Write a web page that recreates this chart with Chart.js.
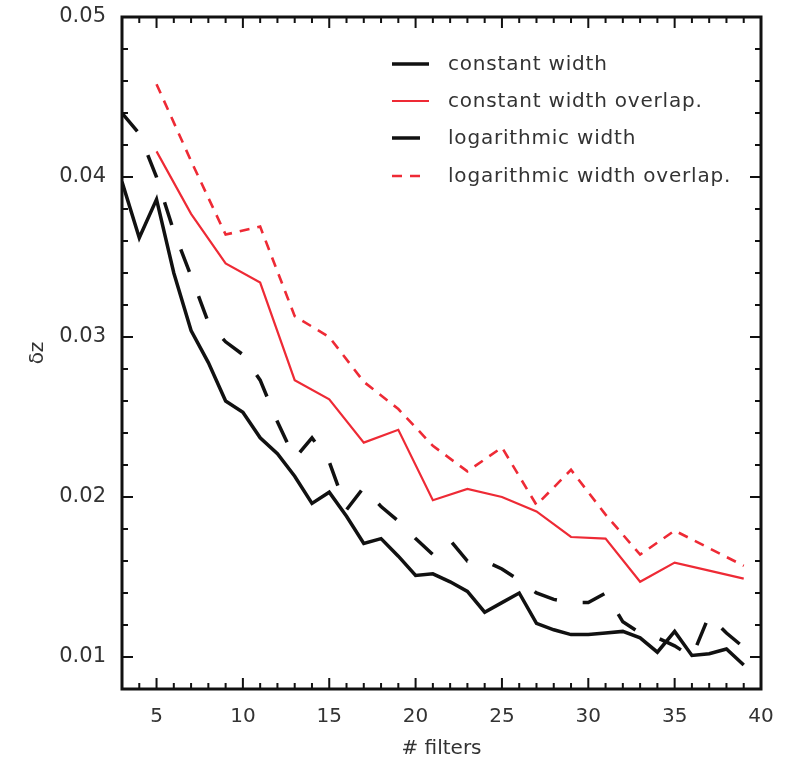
<!DOCTYPE html>
<html lang="en">
<head>
  <meta charset="UTF-8">
  <title>delta z vs number of filters</title>
  <style>
    body { margin: 0; background: #fff; }
    canvas { display: block; }
  </style>
</head>
<body>
  <canvas id="myChart" width="788" height="771"></canvas>

  <script src="https://cdn.jsdelivr.net/npm/chart.js"></script>
  <script>
    // number of filters (every integer for the plain runs, odd only for the overlap runs)
    const nFilters = [3, 4, 5, 6, 7, 8, 9, 10, 11, 12, 13, 14, 15, 16, 17, 18, 19, 20, 21,
                      22, 23, 24, 25, 26, 27, 28, 29, 30, 31, 32, 33, 34, 35, 36, 37, 38, 39];
    const nFiltersOdd = [5, 7, 9, 11, 13, 15, 17, 19, 21, 23, 25, 27, 29, 31, 33, 35, 37, 39];

    const constWidth = [0.0397, 0.0362, 0.0386, 0.0340, 0.0304, 0.0284, 0.0260, 0.0253, 0.0237,
                        0.0227, 0.0213, 0.0196, 0.0203, 0.0188, 0.0171, 0.0174, 0.0163, 0.0151,
                        0.0152, 0.0147, 0.0141, 0.0128, 0.0134, 0.0140, 0.0121, 0.0117, 0.0114,
                        0.0114, 0.0115, 0.0116, 0.0112, 0.0103, 0.0116, 0.0101, 0.0102, 0.0105,
                        0.0095];
    const logWidth = [0.0440, 0.0427, 0.0400, 0.0366, 0.0338, 0.0309, 0.0297, 0.0289, 0.0273,
                      0.0247, 0.0224, 0.0237, 0.0222, 0.0192, 0.0206, 0.0194, 0.0185, 0.0174,
                      0.0164, 0.0173, 0.0160, 0.0160, 0.0155, 0.0148, 0.0140, 0.0136, 0.0134,
                      0.0134, 0.0140, 0.0122, 0.0115, 0.0112, 0.0107, 0.0100, 0.0126, 0.0115,
                      0.0106];
    const constOverlap = [0.0416, 0.0377, 0.0346, 0.0334, 0.0273, 0.0261, 0.0234, 0.0242, 0.0198,
                          0.0205, 0.0200, 0.0191, 0.0175, 0.0174, 0.0147, 0.0159, 0.0154, 0.0149];
    const logOverlap = [0.0458, 0.0410, 0.0364, 0.0369, 0.0313, 0.0300, 0.0272, 0.0255, 0.0232,
                        0.0216, 0.0231, 0.0195, 0.0217, 0.0189, 0.0164, 0.0179, 0.0168, 0.0157];

    const xTicks = [5, 10, 15, 20, 25, 30, 35, 40];
    const yTicks = [0.01, 0.02, 0.03, 0.04, 0.05];

    const RED = '#ee2a35';
    const BLACK = '#111111';

    const series = [
      { label: 'constant width', xs: nFilters, ys: constWidth, color: BLACK, width: 3.5, dash: [] },
      { label: 'constant width overlap.', xs: nFiltersOdd, ys: constOverlap, color: RED, width: 2.2, dash: [] },
      { label: 'logarithmic width', xs: nFilters, ys: logWidth, color: BLACK, width: 3.5, dash: [24, 26] },
      { label: 'logarithmic width overlap.', xs: nFiltersOdd, ys: logOverlap, color: RED, width: 2.6, dash: [10, 8] }
    ];

    function toPoints(xs, ys) {
      return xs.map((x, i) => ({ x: x, y: ys[i] }));
    }

    // box, inward ticks on all four sides
    const frame = {
      id: 'frame',
      afterDatasetsDraw(chart) {
        const { ctx, chartArea: a, scales: { x, y } } = chart;
        ctx.save();
        ctx.strokeStyle = BLACK;
        ctx.lineWidth = 2;
        ctx.beginPath();
        for (let v = 3; v <= 40; v++) {
          const px = x.getPixelForValue(v);
          const len = v % 5 === 0 ? 11 : 6;
          ctx.moveTo(px, a.bottom); ctx.lineTo(px, a.bottom - len);
          ctx.moveTo(px, a.top); ctx.lineTo(px, a.top + len);
        }
        for (let k = 4; k <= 25; k++) {
          const v = k * 0.002;
          const py = y.getPixelForValue(v);
          const len = k % 5 === 0 ? 11 : 6;
          ctx.moveTo(a.left, py); ctx.lineTo(a.left + len, py);
          ctx.moveTo(a.right, py); ctx.lineTo(a.right - len, py);
        }
        ctx.stroke();
        ctx.lineWidth = 3;
        ctx.strokeRect(a.left, a.top, a.right - a.left, a.bottom - a.top);
        ctx.restore();
      },
      afterDraw(chart) {
        const ctx = chart.ctx;
        const rowsY = [64, 101, 138, 176];
        ctx.save();
        series.forEach((s, i) => {
          const yy = rowsY[i];
          ctx.strokeStyle = s.color;
          ctx.lineWidth = s.width;
          ctx.setLineDash(i === 3 ? s.dash : []);
          ctx.beginPath();
          ctx.moveTo(392, yy);
          ctx.lineTo(i === 2 ? 420 : (i === 3 ? 427 : 429), yy);
          ctx.stroke();
          ctx.setLineDash([]);
          ctx.fillStyle = '#333';
          ctx.font = '20px "DejaVu Sans"';
          ctx.letterSpacing = '0.8px';
          ctx.textBaseline = 'middle';
          ctx.fillText(s.label, 448, yy + 1);
        });
        ctx.restore();
      }
    };

    window.onload = function () {
      Chart.defaults.font.family = '"DejaVu Sans", sans-serif';
      Chart.defaults.color = '#333';

      const ctx = document.getElementById('myChart').getContext('2d');
      const myChart = new Chart(ctx, {
        type: 'line',
        data: {
          datasets: series.map(s => ({
            label: s.label,
            data: toPoints(s.xs, s.ys),
            borderColor: s.color,
            borderWidth: s.width,
            borderDash: s.dash,
            pointRadius: 0,
            tension: 0,
            fill: false
          }))
        },
        options: {
          responsive: false,
          animation: false,
          layout: { padding: { left: 0, right: 27, top: 17, bottom: 0 } },
          plugins: { legend: { display: false }, tooltip: { enabled: false } },
          scales: {
            x: {
              type: 'linear',
              min: 3,
              max: 40,
              grid: { display: false, drawTicks: false },
              border: { display: false },
              afterBuildTicks: s => { s.ticks = xTicks.map(v => ({ value: v })); },
              afterFit: s => { s.height = 82; s.paddingLeft = 0; s.paddingRight = 0; },
              ticks: { padding: 16, font: { size: 20 }, color: '#333', maxRotation: 0 },
              title: { display: true, text: '# filters', font: { size: 20 }, color: '#333',
                       padding: { top: 0, bottom: 10 } }
            },
            y: {
              type: 'linear',
              min: 0.008,
              max: 0.05,
              grid: { display: false, drawTicks: false },
              border: { display: false },
              afterBuildTicks: s => { s.ticks = yTicks.map(v => ({ value: v })); },
              afterFit: s => { s.width = 122; s.paddingTop = 0; s.paddingBottom = 0; },
              ticks: { padding: 16, font: { size: 21 }, color: '#333',
                       callback: v => v.toFixed(2) },
              title: { display: true, text: 'δz', font: { size: 20 }, color: '#333',
                       padding: { top: 26, bottom: 0 } }
            }
          }
        },
        plugins: [frame]
      });
    };
  </script>
</body>
</html>
